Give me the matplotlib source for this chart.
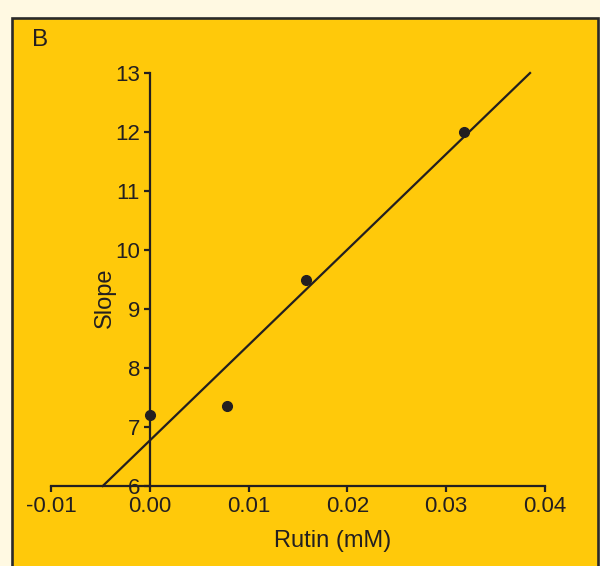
import matplotlib
matplotlib.use("Agg")
import matplotlib.pyplot as plt
import numpy as np
from matplotlib.patches import Rectangle

# data
rutin_mm = [0.0, 0.0078, 0.0158, 0.0318]
slope_vals = [7.2, 7.35, 9.5, 12.0]
x_ticks = [-0.01, 0.0, 0.01, 0.02, 0.03, 0.04]
x_ticklabels = ["-0.01", "0.00", "0.01", "0.02", "0.03", "0.04"]
y_ticks = [6, 7, 8, 9, 10, 11, 12, 13]

INK = "#231f20"
PANEL = "#ffc90a"
CREAM = "#fff9e2"

plt.rcParams["font.family"] = ["Liberation Sans", "DejaVu Sans"]

fig = plt.figure(figsize=(6.0, 5.66), dpi=100, facecolor=CREAM)

# yellow panel with dark border (bottom edge runs off the figure)
fig.patches.append(Rectangle((11.5 / 600, -0.05), 586 / 600, 1 - 18 / 566 + 0.05,
                             transform=fig.transFigure, facecolor=PANEL,
                             edgecolor="#2a2a2a", linewidth=1.9, zorder=-5))
fig.text(32 / 600, 1 - 40 / 566, "B", fontsize=17.5, color=INK, ha="left", va="center")

ax = fig.add_axes([51 / 600, 1 - 486 / 566, 494 / 600, 413 / 566])
ax.set_facecolor("none")

# least-squares line, drawn across the y range 6..13
m, b = np.polyfit(rutin_mm, slope_vals, 1)
y_line = np.array([6.0, 13.0])
x_line = (y_line - b) / m
ax.plot(x_line, y_line, color=INK, lw=1.6, clip_on=False, zorder=3)
ax.plot(rutin_mm, slope_vals, "o", color=INK, ms=7, clip_on=False, zorder=4)

ax.set_xlim(-0.01, 0.04)
ax.set_ylim(6, 13)
ax.spines["left"].set_position(("data", 0))
for s in ("top", "right"):
    ax.spines[s].set_visible(False)
for s in ("left", "bottom"):
    ax.spines[s].set_color(INK)
    ax.spines[s].set_linewidth(1.6)

ax.set_xticks(x_ticks)
ax.set_xticklabels(x_ticklabels)
ax.set_yticks(y_ticks)
ax.tick_params(axis="x", direction="out", length=4, width=1.6, pad=3.5,
               labelsize=16, colors=INK)
ax.tick_params(axis="y", direction="out", length=4, width=1.6, pad=3,
               labelsize=16, colors=INK)

ax.set_xlabel("Rutin (mM)", fontsize=17, color=INK)
ax.xaxis.set_label_coords((333 - 51) / 494, (486 - 530) / 413)
ax.set_ylabel("Slope", fontsize=17, color=INK)
ax.yaxis.set_label_coords((116 - 51) / 494, (486 - 298) / 413)

fig.savefig("out.png", dpi=100, facecolor=CREAM)
